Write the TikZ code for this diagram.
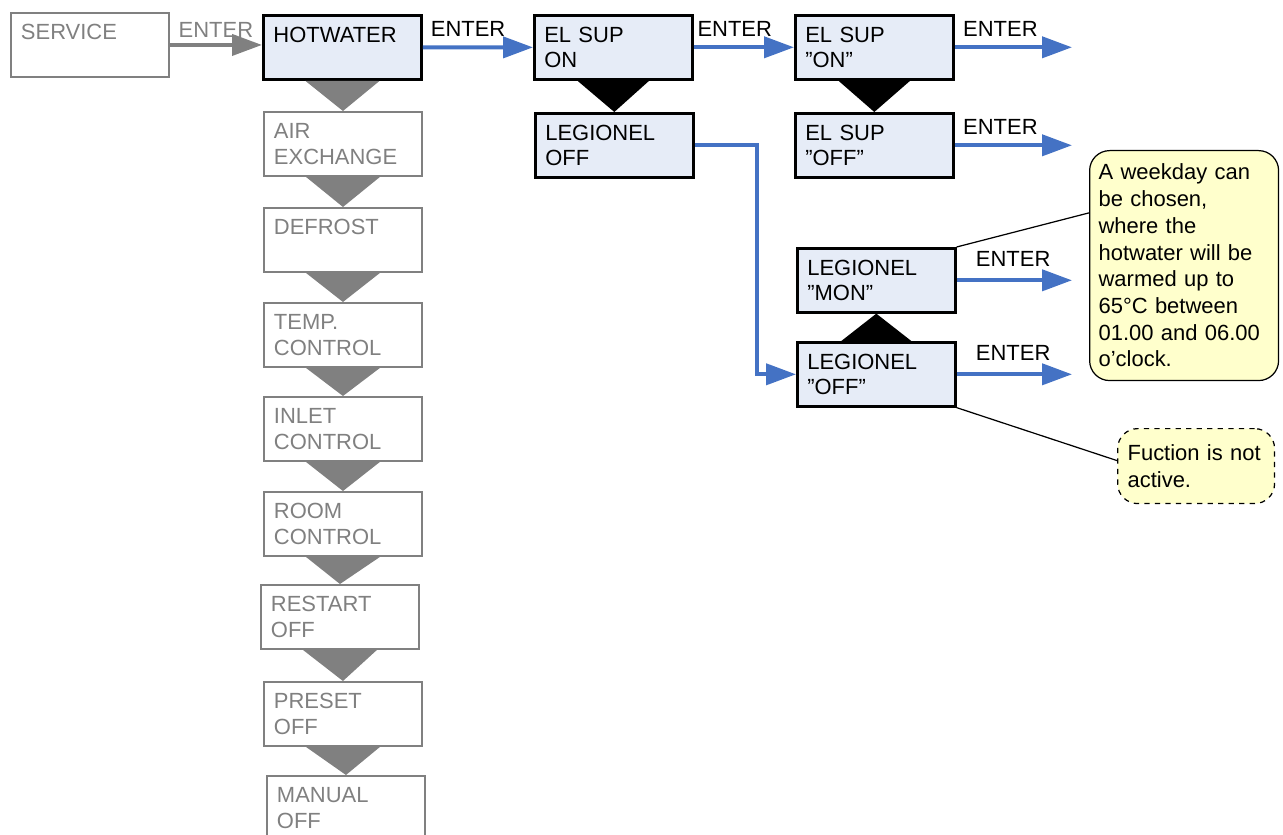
\documentclass[tikz,border=0pt]{standalone}
\usepackage{fontspec}
\setmainfont{Liberation Sans}
\usepackage{xcolor}
\usepackage{tikz}
\usetikzlibrary{arrows.meta}
\definecolor{menublue}{RGB}{68,114,196}
\definecolor{menufill}{RGB}{230,236,247}
\definecolor{menugray}{RGB}{128,128,128}
\definecolor{notefill}{RGB}{255,255,204}
\tikzset{
	menu/.style={draw,rectangle,anchor=north west,minimum width=3.16cm,minimum height=1.28cm,
		inner xsep=0.2cm,text width=2.76cm,align=left,font=\fontsize{12.5}{14.5}\selectfont},
	idle/.style={menu,draw=menugray,text=menugray,fill=white,line width=1.1pt},
	active/.style={menu,draw=black,fill=menufill,line width=1.5pt},
	note/.style={draw,rounded corners=0.4cm,fill=notefill,anchor=north west,align=left,
		inner xsep=0.18cm,line width=0.7pt,font=\fontsize{12.5}{15.2}\selectfont},
	link/.style={-{Triangle[length=0.6cm,width=0.42cm]},line width=0.08cm},
	graylink/.style={link,color=menugray},
	bluelink/.style={link,color=menublue},
	entertext/.style={above,inner sep=0.18cm,text=black,font=\fontsize{12.5}{14.5}\selectfont}
}

\begin{document}
\begin{tikzpicture}[x=0.02cm,y=-0.02cm]
		\useasboundingbox (0,0) rectangle (1283,834);
		\node[idle] (service) at (10,12) {SERVICE\\\mbox{}};
		\node[active,line width=1.7pt] (hot) at (262,14) {HOTWATER\\\mbox{}};
		\node[idle] (air) at (263,111) {AIR\\EXCHANGE};
		\node[idle] (defrost) at (263,207) {DEFROST\\\mbox{}};
		\node[idle] (temp) at (263,302) {TEMP.\\CONTROL};
		\node[idle] (inlet) at (263,396) {INLET\\CONTROL};
		\node[idle] (room) at (263,491) {ROOM\\CONTROL};
		\node[idle] (restart) at (260,584) {RESTART\\OFF};
		\node[idle] (preset) at (263,681) {PRESET\\OFF};
		\node[idle] (manual) at (266,775) {MANUAL\\OFF};
		%
		\node[active] (elsup) at (533,14) {EL SUP\\ON};
		\node[active] (legion) at (534,112) {LEGIONEL\\OFF};
		\node[active] (elon) at (794,14) {EL SUP\\”ON”};
		\node[active] (eloff) at (794,112) {EL SUP\\”OFF”};
		\node[active] (legmon) at (796,247) {LEGIONEL\\”MON”};
		\node[active] (legoff) at (796,341) {LEGIONEL\\”OFF”};
		%
		\node[note,text width=3.42cm,minimum height=4.6cm] (weekday) at (1089,150)
			{A weekday can\\be chosen,\\where the\\hotwater will be\\warmed up to\\65°C between\\01.00 and 06.00\\o’clock.};
		\node[note,dashed,inner xsep=0.2cm,text width=2.74cm,minimum height=1.5cm] (inactive) at (1117,428)
			{Fuction is not\\active.};
		%
		\coordinate (xend) at (1072,0);
		%
		\foreach \a/\b in {hot/air,air/defrost,defrost/temp,temp/inlet,inlet/room,room/restart,restart/preset,preset/manual}
			\fill[menugray] ([xshift=-0.74cm]\a.south) -- ([xshift=0.74cm]\a.south) -- (\b.north) -- cycle;
		\foreach \a/\b in {elsup/legion,elon/eloff}
			\fill[black] ([xshift=-0.72cm]\a.south) -- ([xshift=0.72cm]\a.south) -- (\b.north) -- cycle;
		\fill[black] ([xshift=-0.7cm]legoff.north) -- ([xshift=0.7cm]legoff.north) -- (legmon.south) -- cycle;
		%
		\draw[graylink] (service.east) -- node[entertext,inner sep=0.1cm,text=menugray]{ENTER} (service.east -| hot.west);
		\draw[bluelink] (hot) -- node[entertext,pos=0.41]{ENTER} (elsup);
		\draw[bluelink] (elsup) -- node[entertext,pos=0.41]{ENTER} (elon);
		\draw[bluelink] (elon) -- node[entertext,pos=0.39]{ENTER} (elon.east -| xend);
		\draw[bluelink] (eloff) -- node[entertext,pos=0.39]{ENTER} (eloff.east -| xend);
		\draw[bluelink] (legmon) -- node[entertext,yshift=0.06cm,pos=0.49]{ENTER} (legmon.east -| xend);
		\draw[bluelink] (legoff) -- node[entertext,yshift=0.06cm,pos=0.49]{ENTER} (legoff.east -| xend);
		\draw[bluelink] (legion.east) -- ++(62,0) |- (legoff.west);
		%
		\draw[line width=0.7pt] (legmon.north east) -- (weekday.151);
		\draw[line width=0.7pt] (legoff.south east) -- (inactive.176);
	\end{tikzpicture}
\end{document}
